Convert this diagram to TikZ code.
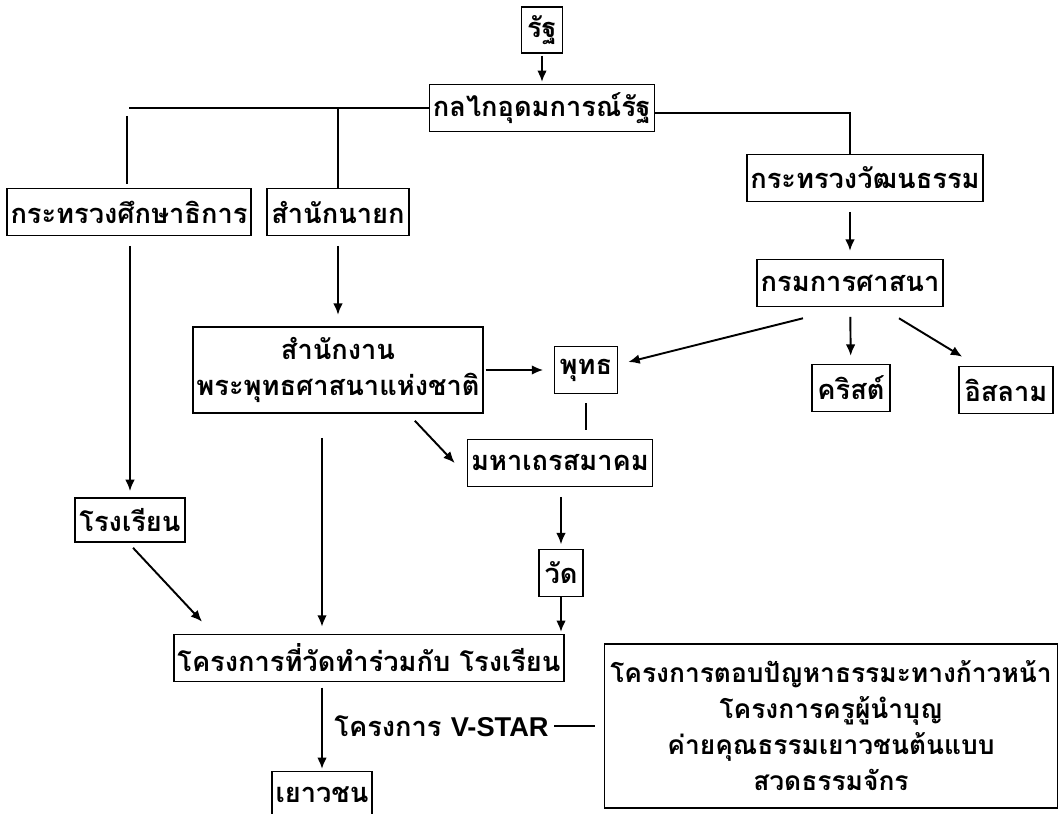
\documentclass[tikz,border=0pt]{standalone}
\usepackage{fontspec}
\setmainfont[Script=Thai]{Loma}
\newfontfamily\latinfont{Liberation Sans}
\usetikzlibrary{calc,arrows.meta}

\tikzset{
  box/.style={draw, line width=0.9pt, inner sep=2pt, minimum height=0.94cm,
    font=\fontsize{15.5}{20}\selectfont\bfseries, align=center},
  link/.style={->, line width=1.1pt, shorten <=5.5pt, shorten >=4.5pt},
  tie/.style={line width=1.1pt}
}

\begin{document}
\begin{tikzpicture}[x=0.02cm, y=-0.02cm, >={Latex[length=6.5pt,width=5.5pt]}]
  \useasboundingbox (0,0) rectangle (1062,814);

  % draw state and its ideology apparatus
  \node [box, minimum width=0.82cm, minimum height=0.92cm] (rat) at (542,30) {รัฐ};
  \node [box, minimum width=4.4cm] (klaikai) at (542,108) {กลไกอุดมการณ์รัฐ};

  % draw ministries
  \node [box, minimum width=4.84cm] (suksa) at (129,212) {กระทรวงศึกษาธิการ};
  \node [box, minimum width=2.84cm] (nayok) at (338,212) {สำนักนายก};
  \node [box, minimum width=4.6cm] (watthanatham) at (865,178) {กระทรวงวัฒนธรรม};
  \node [box, minimum width=3.7cm] (sasana) at (850,283) {กรมการศาสนา};

  % draw religions
  \node [box, minimum width=5.68cm, minimum height=1.72cm] (samnak) at (338,370) {สำนักงาน\\พระพุทธศาสนาแห่งชาติ};
  \node [box, minimum width=1.26cm] (phut) at (586,370) {พุทธ};
  \node [box, minimum width=1.56cm] (khrit) at (851,388) {คริสต์};
  \node [box, minimum width=1.88cm] (islam) at (1006,390) {อิสลาม};
  \node [box, minimum width=3.7cm] (mahathera) at (560,463) {มหาเถรสมาคม};

  % draw school, temple and projects
  \node [box, minimum width=2.2cm, minimum height=0.88cm] (rongrian) at (130,520) {โรงเรียน};
  \node [box, minimum width=0.88cm] (wat) at (561,573) {วัด};
  \node [box, minimum width=7.5cm] (khrongkan) at (369,658) {โครงการที่วัดทำร่วมกับ โรงเรียน};
  \node [box, minimum width=1.98cm] (yaowachon) at (322,795) {เยาวชน};
  \node [font=\fontsize{15.5}{20}\selectfont\bfseries, inner sep=0pt, anchor=east] (vstar) at (549,726) {โครงการ {\latinfont V-STAR}};
  \node [box, font=\fontsize{15}{20.5}\selectfont\bfseries, minimum width=9.06cm, minimum height=3.28cm] (projects) at (831,726)
  {โครงการตอบปัญหาธรรมะทางก้าวหน้า\\โครงการครูผู้นำบุญ\\ค่ายคุณธรรมเยาวชนต้นแบบ\\สวดธรรมจักร};

  % tree lines
  \draw [->, line width=1.1pt, shorten <=1pt, shorten >=1pt] (rat) -- (klaikai);
  \draw [tie] (klaikai.west) -- (suksa.north |- klaikai.west);
  \draw [tie, shorten <=4.5pt, shorten >=2pt] ($(suksa.north |- klaikai.west)+(-2,0)$) -- ($(suksa.north)+(-2,0)$);
  \draw [tie] (nayok.north |- klaikai.west) -- (nayok.north);
  \draw [tie] ($(klaikai.east)+(0,5)$) -| (sasana.north |- watthanatham.north);

  % arrows
  \draw [link] (sasana.north |- watthanatham.south) -- (sasana.north);
  \draw [link] (sasana) -- (khrit);
  \draw [->, line width=1.1pt] ($(sasana.south)+(-47,11)$) -- ($(phut.east)+(10,-8)$);
  \draw [->, line width=1.1pt] ($(sasana.south)+(49,11)$) -- ($(islam.north west)+(4,-9)$);
  \draw [->, line width=1.1pt, shorten <=1pt, shorten >=6pt] (samnak.east) -- (phut.west);
  \draw [tie, shorten <=5pt, shorten >=5pt] (phut.south) -- (phut.south |- mahathera.north);
  \draw [->, line width=1.1pt] ($(samnak.south east)+(-69,7)$) -- ($(mahathera.west)+(-12,0)$);
  \draw [link, shorten >=6.5pt] (nayok) -- (samnak);
  \draw [link, shorten >=3.5pt] (suksa.south -| rongrian.north) -- (rongrian.north);
  \draw [->, line width=1.1pt] ($(rongrian.south)+(3,5)$) -- ($(khrongkan.north west)+(29,-12)$);
  \draw [->, line width=1.1pt, shorten >=4pt] ($(samnak.south)+(-16,24)$) coordinate (s1) -- (s1 |- khrongkan.north);
  \draw [link, shorten >=2.5pt] (wat.north |- mahathera.south) -- (wat.north);
  \draw [->, line width=1.1pt, shorten >=1pt] (wat.south) -- (wat.south |- khrongkan.north);
  \draw [link, shorten <=3pt, shorten >=1pt] (khrongkan.south -| yaowachon.north) -- (yaowachon.north);
  \draw [tie, shorten <=3pt, shorten >=5pt] (vstar.east) -- (vstar.east -| projects.west);

\end{tikzpicture}
\end{document}
